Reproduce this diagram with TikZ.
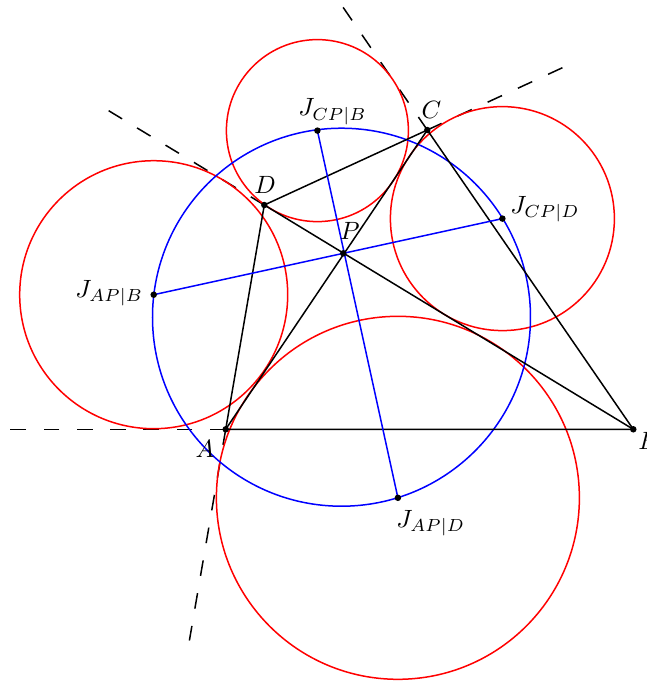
\documentclass[tikz,border=0pt]{standalone}
\begin{document}
\begin{tikzpicture}[x=0.4pt,y=-0.4pt,
  seg/.style={line width=0.6pt},
  ext/.style={line width=0.6pt, dash pattern=on 6.3pt off 7pt},
  exc/.style={red, line width=0.6pt},
  mid/.style={blue, line width=0.6pt},
  dot/.style={circle, fill=black, inner sep=0pt, minimum size=2.6pt},
  lab/.style={inner sep=0pt}]
\useasboundingbox (0,0) rectangle (647,683);
% points
\coordinate (A) at (225.7,429.3);
\coordinate (B) at (633.3,429.3);
\coordinate (C) at (427.3,130);
\coordinate (D) at (264.3,205);
\coordinate (P) at (343.3,253.3);
\coordinate (Jcpb) at (317.4,130.6);
\coordinate (Jcpd) at (502.4,218.6);
\coordinate (Japb) at (153.7,294.7);
\coordinate (Japd) at (397.9,497.8);
\coordinate (O) at (341.5,317.2);
% free ends of extensions
\coordinate (eAB) at (10,429.3);
\coordinate (eAD) at (189.4,640.5);
\coordinate (eDB) at (106.7,109.5);
\coordinate (eCB) at (339.8,2.5);
\coordinate (eCD) at (565.5,66.3);
% dashed extensions
\draw[ext] (A) -- (eAB);
\draw[ext] (A) -- (eAD);
\draw[ext] (D) -- (eDB);
\draw[ext] (C) -- (eCB);
\draw[ext] (C) -- (eCD);
% circles
\draw[exc] (Jcpb) circle[radius=91];
\draw[exc] (Jcpd) circle[radius=112];
\draw[exc] (Japb) circle[radius=134];
\draw[exc] (Japd) circle[radius=181.5];
\draw[mid] (O) circle[radius=189];
% quadrilateral and diagonals
\draw[seg] (A) -- (B) -- (C) -- (D) -- cycle;
\draw[seg] (A) -- (C);
\draw[seg] (B) -- (D);
% blue lines
\draw[mid] (Japb) -- (Jcpd);
\draw[mid] (Jcpb) -- (Japd);
% dots
\foreach \p in {A,B,C,D,P,Jcpb,Jcpd,Japb,Japd} \node[dot] (d\p) at (\p) {};
% labels
\node[lab] (lA) at (205,448.5) {$A$};
\node[lab, anchor=west] (lB) at (638,441) {$B$};
\node[lab] (lC) at (431.5,110) {$C$};
\node[lab] (lD) at (265,185) {$D$};
\node[lab] (lP) at (350,231) {$P$};
\node[lab, anchor=base west] (lJcpb) at (298,115.5) {$J_{CP|B}$};
\node[lab, anchor=base west] (lJcpd) at (510,213) {$J_{CP|D}$};
\node[lab, anchor=base west] (lJapb) at (75,297) {$J_{AP|B}$};
\node[lab, anchor=base west] (lJapd) at (396,527) {$J_{AP|D}$};
\end{tikzpicture}
\end{document}
